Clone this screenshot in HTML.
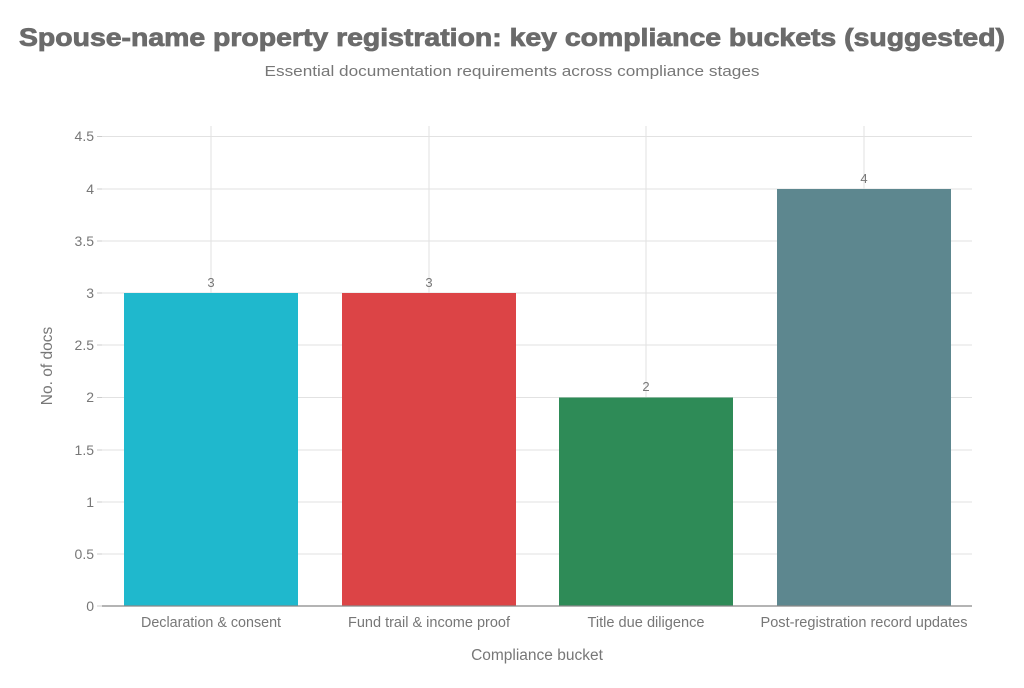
<!DOCTYPE html><html><head><style>body{margin:0;background:#fff}svg text{font-family:"Liberation Sans",sans-serif}</style></head><body>
<svg width="1024" height="683" xmlns="http://www.w3.org/2000/svg">
<rect width="1024" height="683" fill="#fff"/>
<text x="512" y="46" text-anchor="middle" font-size="25" font-weight="bold" fill="#6b6b6b" stroke="#6b6b6b" stroke-width="0.8" textLength="986" lengthAdjust="spacingAndGlyphs">Spouse-name property registration: key compliance buckets (suggested)</text>
<text x="512" y="76" text-anchor="middle" font-size="15" fill="#777" textLength="495" lengthAdjust="spacingAndGlyphs">Essential documentation requirements across compliance stages</text>
<g stroke="#e2e2e2" stroke-width="1">
<line x1="102" x2="972" y1="136.5" y2="136.5"/><line x1="102" x2="972" y1="189" y2="189"/><line x1="102" x2="972" y1="241" y2="241"/><line x1="102" x2="972" y1="293" y2="293"/><line x1="102" x2="972" y1="345" y2="345"/><line x1="102" x2="972" y1="397.5" y2="397.5"/><line x1="102" x2="972" y1="450" y2="450"/><line x1="102" x2="972" y1="502" y2="502"/><line x1="102" x2="972" y1="554" y2="554"/>
<line x1="211" x2="211" y1="126" y2="606"/><line x1="429" x2="429" y1="126" y2="606"/><line x1="646" x2="646" y1="126" y2="606"/><line x1="864" x2="864" y1="126" y2="606"/>
</g>
<g stroke="#ccc"><line x1="97" x2="102" y1="136.5" y2="136.5"/><line x1="97" x2="102" y1="189" y2="189"/><line x1="97" x2="102" y1="241" y2="241"/><line x1="97" x2="102" y1="293" y2="293"/><line x1="97" x2="102" y1="345" y2="345"/><line x1="97" x2="102" y1="397.5" y2="397.5"/><line x1="97" x2="102" y1="450" y2="450"/><line x1="97" x2="102" y1="502" y2="502"/><line x1="97" x2="102" y1="554" y2="554"/><line x1="97" x2="102" y1="606" y2="606"/></g>
<rect x="124" y="293" width="174" height="313" fill="#1fb8cd"/>
<rect x="342" y="293" width="174" height="313" fill="#dc4446"/>
<rect x="559" y="397.5" width="174" height="208.5" fill="#2e8b57"/>
<rect x="777" y="189" width="174" height="417" fill="#5d878f"/>
<line x1="102" x2="972" y1="606" y2="606" stroke="#888" stroke-width="1.2"/>
<g font-size="13" fill="#777" text-anchor="middle">
<text x="211" y="287">3</text><text x="429" y="287">3</text><text x="646" y="391">2</text><text x="864" y="183">4</text>
</g>
<g font-size="14" fill="#777" text-anchor="end">
<text x="94" y="141">4.5</text><text x="94" y="194">4</text><text x="94" y="246">3.5</text><text x="94" y="298">3</text><text x="94" y="350">2.5</text><text x="94" y="402">2</text><text x="94" y="455">1.5</text><text x="94" y="507">1</text><text x="94" y="559">0.5</text><text x="94" y="611">0</text>
</g>
<g font-size="14.5" fill="#777" text-anchor="middle">
<text x="211" y="627" textLength="140" lengthAdjust="spacingAndGlyphs">Declaration &amp; consent</text><text x="429" y="627" textLength="162" lengthAdjust="spacingAndGlyphs">Fund trail &amp; income proof</text><text x="646" y="627" textLength="117" lengthAdjust="spacingAndGlyphs">Title due diligence</text><text x="864" y="627" textLength="207" lengthAdjust="spacingAndGlyphs">Post-registration record updates</text>
</g>
<text x="537" y="660" text-anchor="middle" font-size="15.5" fill="#777">Compliance bucket</text>
<text x="52" y="366" text-anchor="middle" font-size="15.5" fill="#777" transform="rotate(-90 52 366)">No. of docs</text>
</svg></body></html>
